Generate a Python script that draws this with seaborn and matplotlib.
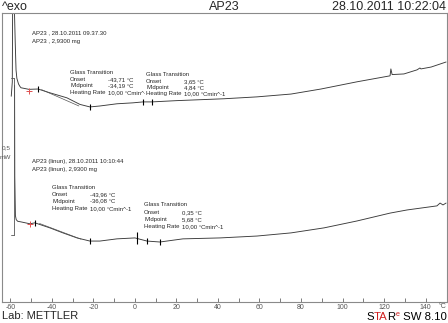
import numpy as np
import pandas as pd
import matplotlib
matplotlib.use("Agg")
import matplotlib.pyplot as plt
from matplotlib.transforms import Bbox, TransformedBbox
import seaborn as sns

# ---------------- data (temperature in degC, heat flow in mW, arbitrary offset) -------------
t_curve1 = [-59.6, -59.1, -58.9, -58.3, -57.7, -57.3, -56.9, -56.1, -55.4, -54.9, -51.1,
            -46.7, -41.0, -32.8, -26.5, -21.7, -16.9, -8.7, -1.0, 3.9, 8.2, 20.0, 42.9,
            58.8, 75.2, 89.6, 107.0, 122.9, 123.3, 123.9, 129.6, 135.9, 137.3, 137.8,
            142.7, 149.9]
hf_curve1 = [0.655, 0.700, 0.990, 0.990, 0.830, 0.739, 0.712, 0.694, 0.686, 0.682, 0.677,
             0.678, 0.666, 0.650, 0.629, 0.621, 0.624, 0.631, 0.634, 0.637, 0.637, 0.641,
             0.647, 0.653, 0.662, 0.678, 0.701, 0.720, 0.742, 0.724, 0.726, 0.739, 0.745,
             0.742, 0.748, 0.764]

t_curve2 = [-58.0, -57.9, -57.6, -57.2, -56.5, -54.9, -50.6, -48.2, -41.0, -34.7, -27.9,
            -21.7, -16.9, -8.7, 0.0, 5.8, 12.0, 23.1, 41.0, 58.8, 75.2, 91.1, 107.0,
            122.9, 131.1, 145.5, 147.0, 148.4, 149.9]
hf_curve2 = [0.690, 0.400, 0.275, 0.262, 0.257, 0.255, 0.249, 0.252, 0.236, 0.220, 0.204,
             0.194, 0.194, 0.201, 0.204, 0.194, 0.191, 0.201, 0.204, 0.210, 0.220, 0.236,
             0.258, 0.283, 0.293, 0.306, 0.315, 0.309, 0.315]

# evaluation marks
onset_red_t = [-51.1, -50.6]
onset_red_hf = [0.673, 0.249]
marks1_t = [-46.7, -21.7, 3.9, 8.2]
marks1_hf = [0.678, 0.621, 0.637, 0.637]
marks2_t = [-48.2, -21.7, 5.8, 12.0]
marks2_hf = [0.252, 0.194, 0.194, 0.191]
big_mark_t, big_mark_hf = [0.8], [0.204]

# tangents of the glass transitions
tan1_t = [-45.0, -27.0]
tan1_hf = [0.676, 0.624]
tan2_t = [-46.0, -26.0]
tan2_hf = [0.250, 0.200]

scale_t = -58.4
scale_hf = [0.213, 0.713]   # 0.5 mW scale bar

x_ticks = list(range(-60, 141, 20))
x_minor = list(range(-60, 141, 10))

header_left = "^exo"
header_mid = "AP23"
header_right = "28.10.2011 10:22:04"

curve1_label = ["AP23 , 28.10.2011 09.37.30", "AP23 , 2,9300 mg"]
curve2_label = ["AP23 (linun), 28.10.2011 10:10:44", "AP23 (linun), 2,9300 mg"]
gt_names = ["Glass Transition", "Onset", "Midpoint", "Heating Rate"]
gt1a = ["", "-43,71 °C", "-34,19 °C", "10,00 °Cmin^-1"]
gt1b = ["", "3,65 °C", "4,84 °C", "10,00 °Cmin^-1"]
gt2a = ["", "-43,96 °C", "-36,08 °C", "10,00 °Cmin^-1"]
gt2b = ["", "0,35 °C", "5,68 °C", "10,00 °Cmin^-1"]

# ---------------- figure ----------------
sns.set_style("white")
plt.rcParams["font.family"] = ["Liberation Sans", "DejaVu Sans"]

W, H = 448, 323
fig = plt.figure(figsize=(W / 100, H / 100), dpi=100)
ax = fig.add_axes([1.5 / W, 1 - 301.5 / H, 445 / W, 288.5 / H])
ax.set_xlim(-64.3, 150.1)
ax.set_ylim(0.0016, 0.920)

line_c = "#3a3a3a"
df1 = pd.DataFrame({"T": t_curve1, "HF": hf_curve1})
df2 = pd.DataFrame({"T": t_curve2, "HF": hf_curve2})
sns.lineplot(data=df1, x="T", y="HF", ax=ax, color=line_c, linewidth=0.65,
             sort=False, estimator=None)
sns.lineplot(data=df2, x="T", y="HF", ax=ax, color=line_c, linewidth=0.65,
             sort=False, estimator=None)

# tangents
ax.plot(tan1_t, tan1_hf, color="#555555", lw=0.5)
ax.plot(tan2_t, tan2_hf, color="#555555", lw=0.5)

# scale bar
ax.plot([scale_t, scale_t], scale_hf, color="#555555", lw=0.6)
for v in scale_hf:
    ax.plot([scale_t - 1.2, scale_t], [v, v], color="#555555", lw=0.6)

# marks
ax.plot(onset_red_t, onset_red_hf, ls="none", marker="+", ms=5, mew=0.7,
        color="#e05050", zorder=5)
ax.plot(marks1_t, marks1_hf, ls="none", marker="|", ms=4.5, mew=0.8, color="black")
ax.plot(marks2_t, marks2_hf, ls="none", marker="|", ms=4.5, mew=0.8, color="black")
ax.plot(big_mark_t, big_mark_hf, ls="none", marker="|", ms=9, mew=0.8, color="black")

# axes styling
for s in ax.spines.values():
    s.set_color("#8a8a8a")
    s.set_linewidth(0.8)
ax.set_xticks(x_ticks)
ax.set_xticklabels([str(v) for v in x_ticks])
ax.set_xticks(x_minor, minor=True)
ax.tick_params(axis="x", which="both", direction="in", length=3, width=0.6,
               color="#666666", labelsize=5, labelcolor="#555555", pad=1.5,
               bottom=True)
ax.set_yticks([])
ax.set_xlabel("")
ax.set_ylabel("")


def ftext(x, y, s, **kw):
    return fig.text(x / W, 1 - y / H, s, **kw)


ftext(448 - 6, 306, "°C", fontsize=5, color="#555555", ha="center", va="center")
ftext(6, 148, "0,5", fontsize=4.6, color="#555555", ha="center", va="center")
ftext(5, 157, "mW", fontsize=4.6, color="#555555", ha="center", va="center")

# header / footer
ftext(2, 6.5, header_left, fontsize=9, ha="left", va="center")
ftext(224, 6.5, header_mid, fontsize=9, ha="center", va="center")
ftext(446, 6.5, header_right, fontsize=9, ha="right", va="center")
ftext(2, 316, "Lab: METTLER", fontsize=8, ha="left", va="center")

# STARe SW 8.10, built right to left with measured extents
fig.canvas.draw()
renderer = fig.canvas.get_renderer()
base_y = 320
pieces = [(" SW 8.10", "black", 8.2, 0), ("e", "#d02020", 5.2, -4.0),
          ("R", "black", 8.2, 0), ("TA", "#d02020", 8.2, 0), ("S", "black", 8.2, 0)]
xr = 446.5
for txt, col, size, dy in pieces:
    t = ftext(xr, base_y + dy, txt, fontsize=size, color=col, ha="right",
              va="baseline")
    bb = t.get_window_extent(renderer=renderer)
    xr -= bb.width

fs = 4.3
ftext(32, 33, curve1_label[0], fontsize=fs, va="center")
ftext(32, 41, curve1_label[1], fontsize=fs, va="center")
ftext(32, 161.5, curve2_label[0], fontsize=fs, va="center")
ftext(32, 169.5, curve2_label[1], fontsize=fs, va="center")


def block(x, xv, ys, vals, clip_x=None):
    for name, val, yy in zip(gt_names, vals, ys):
        ftext(x, yy, name, fontsize=fs, va="center")
        if val:
            t = ftext(xv, yy, val, fontsize=fs, va="center")
            if clip_x is not None:
                t.set_clip_box(TransformedBbox(Bbox([[0, 0], [clip_x / W, 1]]),
                                               fig.transFigure))
                t.set_clip_on(True)


block(70, 108, [72, 79.5, 86, 92.5], gt1a, clip_x=145)
block(146, 184, [75, 81.5, 87.5, 93.5], gt1b)
block(52, 90, [187.5, 194.5, 201, 208.5], gt2a)
block(144, 182, [205, 212.5, 219.5, 226.5], gt2b)

fig.savefig("out.png", dpi=100)
